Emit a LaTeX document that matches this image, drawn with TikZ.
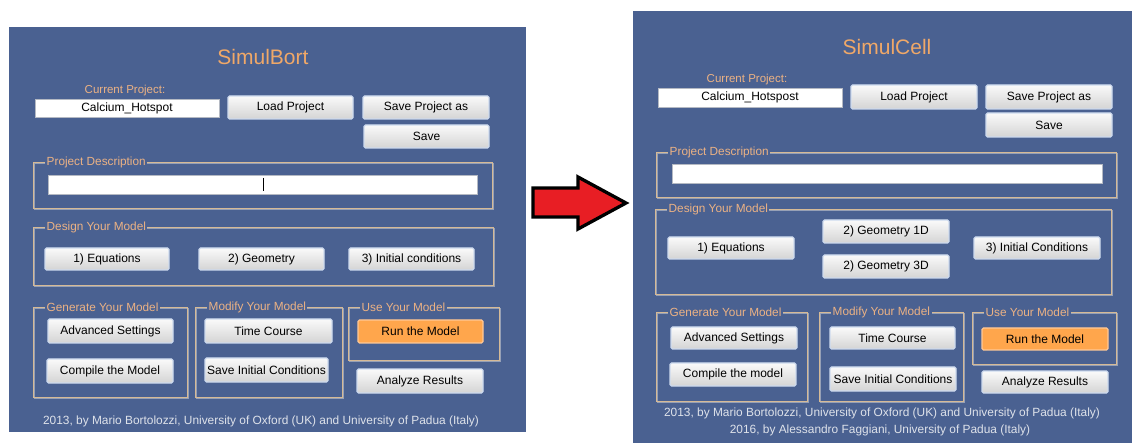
\documentclass[tikz,border=0pt]{standalone}
\usepackage{fontspec}
\setmainfont{Liberation Sans}
\definecolor{panel}{RGB}{74,97,145}
\definecolor{ttl}{RGB}{240,168,104}
\definecolor{lbl}{RGB}{236,178,132}
\definecolor{ftr}{RGB}{222,226,234}
\definecolor{fr}{RGB}{214,186,150}
\definecolor{fr2}{RGB}{150,160,182}
\definecolor{bborder}{RGB}{205,218,238}
\definecolor{runfill}{RGB}{255,166,76}
\definecolor{arrred}{RGB}{232,30,36}
\tikzset{
  btn/.style={draw=bborder, line width=1.2pt, rounded corners=1.5pt,
    top color={rgb,255:red,250;green,250;blue,250}, bottom color={rgb,255:red,212;green,212;blue,212},
    font=\fontsize{12}{14}\selectfont, inner sep=0pt, text=black},
  runbtn/.style={btn, top color=runfill, bottom color=runfill, draw={rgb,255:red,255;green,200;blue,150}},
  tbox/.style={draw={rgb,255:red,180;green,185;blue,195}, line width=0.6pt, fill=white, inner sep=0pt,
    font=\fontsize{12}{14}\selectfont, text=black},
  flabel/.style={fill=panel, text=lbl, inner xsep=1.5pt, inner ysep=0pt, font=\fontsize{11.8}{13}\selectfont},
  titlet/.style={text=ttl, font=\fontsize{21}{25}\selectfont},
  plabel/.style={text=lbl, font=\fontsize{11.5}{13}\selectfont},
  foot/.style={text=ftr, font=\fontsize{11.9}{14}\selectfont},
  frline/.style={draw=fr, line width=0.85pt},
  frline2/.style={draw=fr2, line width=0.6pt},
}
\newcommand\btnn[7][btn]{\node[#1, minimum width=#5pt, minimum height=#6pt] (#2) at (#3,#4) {#7};}
\newcommand\frm[6]{%
  \draw[frline2] (#2+1.2,#3+1.2) rectangle (#4+1.2,#5+1.2);
  \draw[frline] (#2,#3) rectangle (#4,#5);
  \node[flabel, anchor=west] (#1) at (#2+12,#3) {#6};}
\begin{document}
\begin{tikzpicture}[x=1pt,y=-1pt]
\useasboundingbox (0,0) rectangle (1132,443);
\fill[white] (0,0) rectangle (1132,443);
% ================= LEFT PANEL =================
\fill[panel] (9,27) rectangle (526,432);
\node[titlet] (lt) at (263,57) {SimulBort};
\node[plabel] (lcp) at (125,91) {Current Project:};
\node[tbox, minimum width=184pt, minimum height=18pt] (lcur) at (127,108) {Calcium\_Hotspot};
\btnn{lload}{290.5}{107.5}{125}{23}{Load Project}
\btnn{lsaveas}{426}{107.5}{126}{23}{Save Project as}
\btnn{lsave}{426.5}{136.5}{125}{23}{Save}
\frm{lfd}{33}{162}{492}{208}{Project Description}
\node[tbox, minimum width=429pt, minimum height=19pt] (ldesc) at (262.5,184.5) {};
\draw[black, line width=0.8pt] (263,178) -- (263,191);
\frm{lfm}{33}{227}{493}{285}{Design Your Model}
\btnn{leq}{107}{259}{124}{22}{1) Equations}
\btnn{lgeo}{261.5}{259}{125}{22}{2) Geometry}
\btnn{lic}{411.5}{259}{125}{22}{3) Initial conditions}
\frm{lfg}{33}{307}{187}{397}{Generate Your Model}
\btnn{ladv}{110.5}{331}{125}{24}{Advanced Settings}
\btnn{lcomp}{110}{371}{126}{24}{Compile the Model}
\frm{lfmod}{195}{307}{342}{397}{Modify Your Model}
\btnn{ltc}{268.5}{331}{127}{24}{Time Course}
\btnn{lsic}{266.5}{370}{123}{24}{Save Initial Conditions}
\frm{lfu}{348}{307}{499}{360}{Use Your Model}
\btnn[runbtn]{lrun}{420.5}{331.5}{125}{23}{Run the Model}
\btnn{lan}{420}{381}{126}{24}{Analyze Results}
\node[foot] (lfoot) at (261,421) {2013, by Mario Bortolozzi, University of Oxford (UK) and University of Padua (Italy)};
% ================= ARROW =================
\filldraw[fill=arrred, draw=black, line width=3.3pt, line join=miter]
  (533,188) -- (578,188) -- (578,177) -- (626,203) -- (578,229) -- (578,217) -- (533,217) -- cycle;
% ================= RIGHT PANEL =================
\fill[panel] (633,11) rectangle (1132,443);
\node[titlet] (rt) at (887,47) {SimulCell};
\node[plabel] (rcp) at (747,80) {Current Project:};
\node[tbox, minimum width=184pt, minimum height=19pt] (rcur) at (750,97.5) {Calcium\_Hotspost};
\btnn{rload}{914}{97}{126}{24}{Load Project}
\btnn{rsaveas}{1049}{97}{126}{24}{Save Project as}
\btnn{rsave}{1049}{125}{126}{24}{Save}
\frm{rfd}{656}{152}{1116}{197}{Project Description}
\node[tbox, minimum width=430pt, minimum height=19pt] (rdesc) at (887,173.5) {};
\frm{rfm}{655}{209}{1111}{294}{Design Your Model}
\btnn{req}{731}{248}{126}{22}{1) Equations}
\btnn{rg1}{886}{231.5}{126}{23}{2) Geometry 1D}
\btnn{rg3}{886}{266.5}{126}{23}{2) Geometry 3D}
\btnn{ric}{1037}{248}{126}{22}{3) Initial Conditions}
\frm{rfg}{656}{312}{807}{401}{Generate Your Model}
\btnn{radv}{734}{338}{126}{22}{Advanced Settings}
\btnn{rcomp}{733}{374.5}{126}{23}{Compile the model}
\frm{rfmod}{819}{312}{963}{401}{Modify Your Model}
\btnn{rtc}{892.5}{338}{125}{22}{Time Course}
\btnn{rsic}{893}{379}{126}{24}{Save Initial Conditions}
\frm{rfu}{972}{312}{1116}{364}{Use Your Model}
\btnn[runbtn]{rrun}{1045}{339}{126}{22}{Run the Model}
\btnn{ran}{1045}{382}{126}{22}{Analyze Results}
\node[foot] (rfoot1) at (882,413) {2013, by Mario Bortolozzi, University of Oxford (UK) and University of Padua (Italy)};
\node[foot] (rfoot2) at (880,430) {2016, by Alessandro Faggiani, University of Padua (Italy)};
\end{tikzpicture}
\end{document}
